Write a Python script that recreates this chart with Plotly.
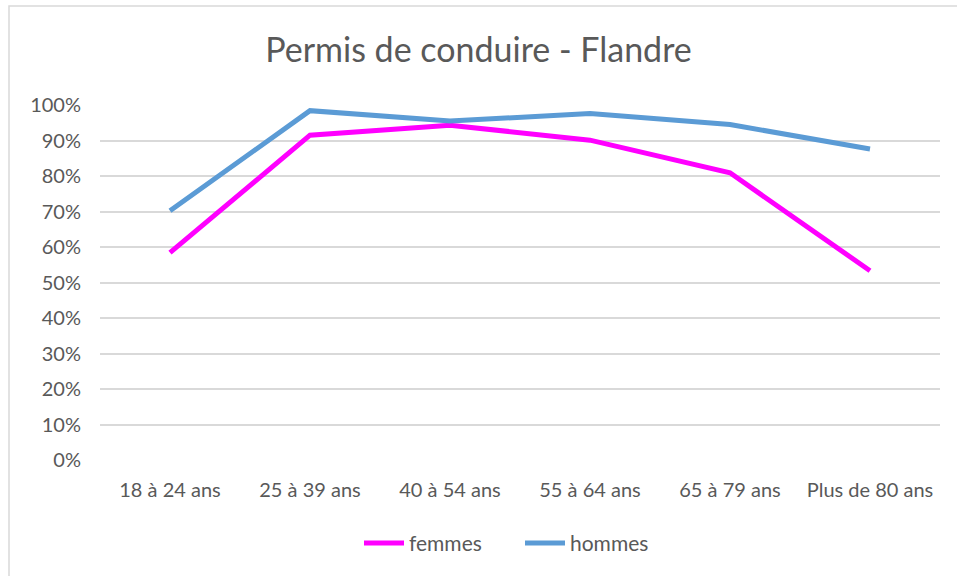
import plotly.graph_objects as go

categories = ["18 à 24 ans", "25 à 39 ans", "40 à 54 ans", "55 à 64 ans", "65 à 79 ans", "Plus de 80 ans"]
femmes = [0.584, 0.915, 0.943, 0.901, 0.809, 0.533]
hommes = [0.702, 0.984, 0.955, 0.976, 0.945, 0.876]
y_ticks = [i / 10 for i in range(11)]
y_tick_labels = [f"{i * 10}%" for i in range(11)]

FONT = "Lato, 'Open Sans', sans-serif"
GREY = "#595959"

fig = go.Figure()
fig.add_trace(go.Scatter(x=categories, y=femmes, name="femmes", mode="lines",
                         line=dict(color="#FF00FF", width=5)))
fig.add_trace(go.Scatter(x=categories, y=hommes, name="hommes", mode="lines",
                         line=dict(color="#5B9BD5", width=5)))

fig.update_layout(
    width=957, height=576,
    margin=dict(l=100, r=17, t=105, b=116),
    paper_bgcolor="white", plot_bgcolor="white",
    font=dict(family=FONT, color=GREY, size=20),
    title=dict(text="Permis de conduire - Flandre", x=0.5, xanchor="center",
               y=0.913, yanchor="middle",
               font=dict(family=FONT, size=34, color=GREY)),
    showlegend=True,
    legend=dict(orientation="h", x=0.5, xanchor="center", y=-0.235, yanchor="middle",
                font=dict(family=FONT, size=21, color=GREY), itemwidth=40,
                entrywidth=106, entrywidthmode="pixels",
                traceorder="normal"),
    xaxis=dict(type="category", range=[-0.5, 5.5], showgrid=False, zeroline=False,
               showline=False, ticks="", ticklabelstandoff=16,
               tickfont=dict(family=FONT, size=20, color=GREY)),
    yaxis=dict(range=[0, 1], tickvals=y_ticks, ticktext=y_tick_labels,
               showgrid=True, gridcolor="#D9D9D9", gridwidth=1.5, zeroline=False,
               showline=False, ticks="", ticklabelstandoff=18,
               tickfont=dict(family=FONT, size=20, color=GREY)),
    shapes=[dict(type="rect", xref="paper", yref="paper",
                 x0=-91 / 840, x1=1.5, y0=-1.0, y1=(460 - 6) / 355,
                 line=dict(color="#D9D9D9", width=1.5), fillcolor="rgba(0,0,0,0)",
                 layer="below")],
)

fig.write_html("out.html", config={"displayModeBar": False},
               post_script="document.body.style.margin='0';")
